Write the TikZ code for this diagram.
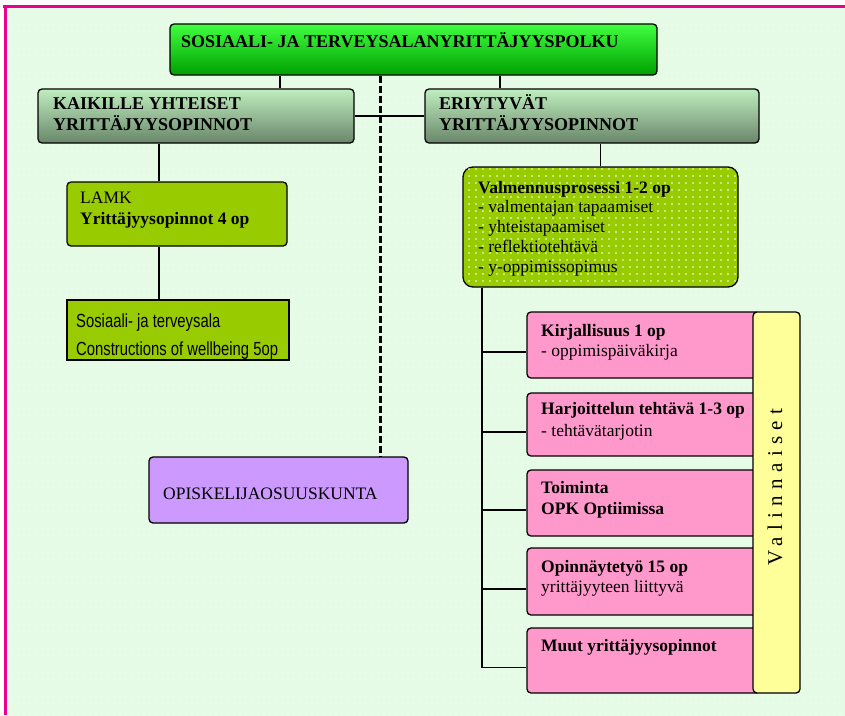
\documentclass[tikz,border=0pt]{standalone}
\usepackage{fontspec}
\setmainfont{Liberation Serif}
\newfontfamily\narrowsans[FakeStretch=0.78]{Liberation Sans}
\usetikzlibrary{patterns.meta}
\definecolor{mint}{HTML}{B8F4B8}
\definecolor{mintlight}{HTML}{E6FBE6}
\definecolor{yg}{HTML}{99CC00}
\definecolor{pinkbox}{HTML}{FF99CC}
\definecolor{purplebox}{HTML}{CC99FF}
\definecolor{yellowbox}{HTML}{FFFF99}
\definecolor{titletop}{HTML}{40FF40}
\definecolor{titlebot}{HTML}{00A000}
\definecolor{headtop}{HTML}{BFEEBF}
\definecolor{headbot}{HTML}{6A866A}
\begin{document}
\begin{tikzpicture}[x=1pt,y=-1pt,
  box/.style={draw=black, line width=1.3pt, rounded corners=4pt, inner sep=0pt},
  conn/.style={draw=black, line width=1.3pt},
  txt/.style={anchor=base west, align=left, inner sep=0pt, font=\fontsize{17.5}{20}\selectfont},
  headtxt/.style={anchor=base west, align=left, inner sep=0pt, font=\fontsize{18}{21}\selectfont\bfseries},
  pinkstyle/.style={box, fill=pinkbox, minimum width=233pt}
]
\useasboundingbox (0,0) rectangle (845,715);
\fill[white] (0,0) rectangle (845,715);
\shade[top color=mintlight, middle color=mint, bottom color=mintlight] (5,6) rectangle (845,715);
\fill[pattern={Dots[distance=6pt,radius=0.6pt]}, pattern color=white] (5,6) rectangle (845,715);
\draw[magenta, line width=3pt] (3,6.5) -- (845,6.5);
\draw[magenta, line width=3pt] (5,5) -- (5,715);

% boxes
\node[box, top color=titletop, bottom color=titlebot, minimum width=487pt, minimum height=51pt] (title) at (413.5,49.5) {};
\node[box, top color=headtop, bottom color=headbot, minimum width=316pt, minimum height=54pt] (kaikki) at (196,116) {};
\node[box, top color=headtop, bottom color=headbot, minimum width=334pt, minimum height=54pt] (eriyt) at (592,116) {};
\node[box, fill=yg, minimum width=220pt, minimum height=64pt] (lamk) at (177,214) {};
\node[box, rounded corners=0pt, fill=yg, minimum width=222pt, minimum height=60pt] (sote) at (178,330) {};
\node[box, rounded corners=10pt, fill=yg, postaction={pattern={Dots[distance=7pt,radius=0.8pt]}, pattern color=white}, minimum width=275pt, minimum height=120pt] (valm) at (600.5,227) {};
\node[box, fill=purplebox, minimum width=259pt, minimum height=66pt] (opisk) at (278.5,490) {};
\node[pinkstyle, minimum height=66pt] (kirj) at (643.5,345) {};
\node[pinkstyle, minimum height=63pt] (harj) at (643.5,424.5) {};
\node[pinkstyle, minimum height=66pt] (toim) at (643.5,503) {};
\node[pinkstyle, minimum height=67pt] (opin) at (643.5,581.5) {};
\node[pinkstyle, minimum height=65pt] (muut) at (643.5,660.5) {};

% connectors
\draw[conn] ([xshift=-133.5pt]title.south) -- ([xshift=-133.5pt]title.south |- kaikki.north);
\draw[conn] ([xshift=86.5pt]title.south) -- ([xshift=86.5pt]title.south |- eriyt.north);
\draw[black, line width=3pt, dash pattern=on 7pt off 3pt] ([xshift=-33.5pt]title.south) -- ([xshift=-33.5pt]title.south |- opisk.north);
\draw[conn] (kaikki.east) -- (eriyt.west);
\draw[conn] ([xshift=-37pt]kaikki.south) -- ([xshift=-37pt]kaikki.south |- lamk.north);
\draw[conn] ([xshift=-18pt]lamk.south) -- ([xshift=-18pt]lamk.south |- sote.north);
\draw[conn] (eriyt.south -| valm.north) -- (valm.north);
\coordinate (trunk) at ([xshift=-118.5pt]valm.south);
\draw[conn] (trunk) |- ([yshift=-7pt]kirj.west);
\draw[conn] (trunk) |- ([yshift=-7.5pt]harj.west);
\draw[conn] (trunk) |- ([yshift=-7pt]toim.west);
\draw[conn] (trunk) |- ([yshift=-7.5pt]opin.west);
\draw[conn] (trunk) |- ([yshift=-7pt]muut.west);

% texts (base anchor = last line baseline)
\node[headtxt] (title-t) at (181,47.5) {SOSIAALI- JA TERVEYSALANYRITTÄJYYSPOLKU};
\node[headtxt] (kaikki-t) at (53,130.5) {KAIKILLE YHTEISET\\YRITTÄJYYSOPINNOT};
\node[headtxt] (eriyt-t) at (439,130.5) {ERIYTYVÄT\\YRITTÄJYYSOPINNOT};
\node[txt, font=\fontsize{17.5}{21}\selectfont] (lamk-t) at (80,224) {LAMK\\\textbf{Yrittäjyysopinnot 4 op}};
\node[txt, font=\narrowsans\fontsize{19}{28}\selectfont] (sote-t) at (76,355) {Sosiaali- ja terveysala\\Constructions of wellbeing 5op};
\node[txt, font=\fontsize{17.5}{19.7}\selectfont] (valm-t) at (478,272) {\textbf{Valmennusprosessi 1-2 op}\\- valmentajan tapaamiset\\- yhteistapaamiset\\- reflektiotehtävä\\- y-oppimissopimus};
\node[txt] (opisk-t) at (163,499) {OPISKELIJAOSUUSKUNTA};
\node[txt] (kirj-t) at (541,356) {\textbf{Kirjallisuus 1 op}\\- oppimispäiväkirja};
\node[txt, font=\fontsize{17.5}{22}\selectfont] (harj-t) at (541,436) {\textbf{Harjoittelun tehtävä 1-3 op}\\- tehtävätarjotin};
\node[txt, font=\fontsize{17.5}{21}\selectfont] (toim-t) at (541,514) {\textbf{Toiminta}\\\textbf{OPK Optiimissa}};
\node[txt] (opin-t) at (541,592) {\textbf{Opinnäytetyö 15 op}\\yrittäjyyteen liittyvä};
\node[txt] (muut-t) at (541,651) {\textbf{Muut yrittäjyysopinnot}};

% optional column
\node[box, fill=yellowbox, minimum width=47pt, minimum height=381pt] (valinn) at (776.5,502.5) {};
\node[rotate=90, inner sep=0pt, font=\fontsize{21}{24}\selectfont] (valinn-t) at (775,487) {\addfontfeature{LetterSpace=30}Valinnaiset};
\end{tikzpicture}
\end{document}
